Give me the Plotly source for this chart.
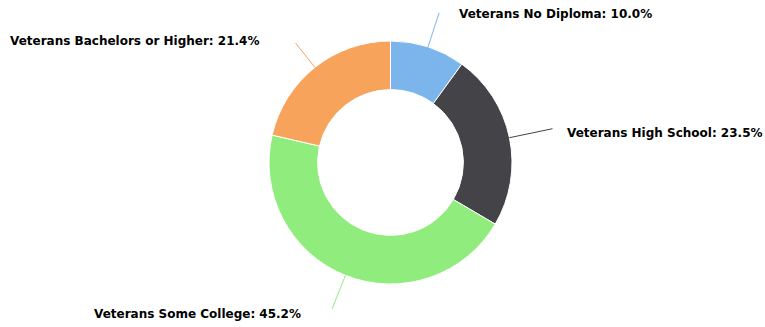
import math
import plotly.graph_objects as go

# Education attainment of veterans (percent)
categories = ["Veterans No Diploma", "Veterans High School",
              "Veterans Some College", "Veterans Bachelors or Higher"]
values = [10.0, 23.5, 45.2, 21.4]
colors = ["#7cb5ec", "#434348", "#90ed7d", "#f7a35c"]

W, H = 765, 327
cx, cy, R = 390.5, 162.5, 121.5   # donut centre and outer radius, in px

# label placement: (extra radial length of connector, text x, text y, anchor)
label_layout = [
    (36, 457, 14, "left"),
    (44, 565, 132.5, "left"),
    (36, 303, 314, "right"),
    (31, 261, 40.5, "right"),
]

def px_to_paper(x, y):
    return x / W, (H - y) / H

fig = go.Figure(go.Pie(
    labels=categories,
    values=values,
    hole=0.6,
    sort=False,
    direction="clockwise",
    rotation=0,
    marker=dict(colors=colors, line=dict(color="#ffffff", width=1)),
    textinfo="none",
    hoverinfo="label+percent",
    domain=dict(x=[(cx - R) / W, (cx + R) / W],
                y=[(H - cy - R) / H, (H - cy + R) / H]),
    showlegend=False,
))

total = sum(values)
cum = 0.0
shapes, annotations = [], []
for name, v, col, (ext, tx, ty, anchor) in zip(categories, values, colors, label_layout):
    mid = (cum + v / 2) / total * 2 * math.pi
    cum += v
    sx, sy = cx + R * math.sin(mid), cy - R * math.cos(mid)
    ex, ey = cx + (R + ext) * math.sin(mid), cy - (R + ext) * math.cos(mid)
    x0, y0 = px_to_paper(sx, sy)
    x1, y1 = px_to_paper(ex, ey)
    shapes.append(dict(type="line", xref="paper", yref="paper",
                       x0=x0, y0=y0, x1=x1, y1=y1,
                       line=dict(color=col, width=1)))
    ax, ay = px_to_paper(tx, ty)
    annotations.append(dict(
        xref="paper", yref="paper", x=ax, y=ay,
        xanchor=anchor, yanchor="middle", showarrow=False,
        text=f"<b>{name}: {v / total * 100:.1f}%</b>",
        font=dict(family="DejaVu Sans", size=12, color="#000000"),
    ))

fig.update_layout(
    width=W, height=H,
    margin=dict(l=0, r=0, t=0, b=0),
    paper_bgcolor="#ffffff",
    plot_bgcolor="#ffffff",
    shapes=shapes,
    annotations=annotations,
)

fig.write_html("out.html")
